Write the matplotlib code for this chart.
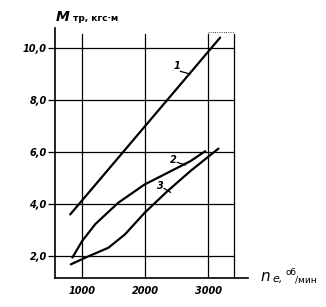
import matplotlib
matplotlib.use("Agg")
import matplotlib.pyplot as plt

# curves: friction torque vs engine speed
rpm_1 = [810, 3190]
torque_1 = [3.6, 10.4]

rpm_2 = [844, 1000, 1209, 1573, 1990, 2355, 2719, 2953]
torque_2 = [1.94, 2.58, 3.23, 4.05, 4.75, 5.2, 5.65, 6.03]

rpm_3 = [819, 1053, 1417, 1678, 1990, 2355, 2719, 3162]
torque_3 = [1.68, 1.94, 2.32, 2.83, 3.66, 4.5, 5.27, 6.13]

x_ticks = [1000, 2000, 3000]
x_tick_labels = ["1000", "2000", "3000"]
y_ticks = [2, 4, 6, 8, 10]
y_tick_labels = ["2,0", "4,0", "6,0", "8,0", "10,0"]

fig = plt.figure(figsize=(3.26, 3.07), dpi=100)
ax = fig.add_axes([0.169, 0.094, 0.592, 0.815])
ax.set_xlim(570, 3633)
ax.set_ylim(1.15, 10.77)

grid_right = 3410
for y in y_ticks:
    ax.plot([570, grid_right], [y, y], color="black", lw=0.9)
for x in x_ticks + [grid_right]:
    ax.plot([x, x], [1.15, 10.55], color="black", lw=0.9)
ax.plot([3000, grid_right], [10.6, 10.6], color="black", lw=0.6, ls=":")

k = dict(color="black", lw=1.6, solid_capstyle="round", solid_joinstyle="round")
ax.plot(rpm_1, torque_1, **k)
ax.plot(rpm_2, torque_2, **k)
ax.plot(rpm_3, torque_3, **k)

# curve labels with short leaders
lab = dict(fontsize=7, fontweight="bold", style="italic", ha="center", va="center")
ax.text(2500, 9.3, "1", **lab)
ax.plot([2560, 2710], [9.1, 9.0], color="black", lw=0.9)
ax.text(2440, 5.7, "2", **lab)
ax.plot([2510, 2640], [5.6, 5.5], color="black", lw=0.9)
ax.text(2240, 4.7, "3", **lab)
ax.plot([2300, 2400], [4.6, 4.45], color="black", lw=0.9)

for s in ["top", "right"]:
    ax.spines[s].set_visible(False)
for s in ["left", "bottom"]:
    ax.spines[s].set_linewidth(1.2)

ax.set_xticks(x_ticks)
ax.set_xticklabels(x_tick_labels)
ax.set_yticks(y_ticks)
ax.set_yticklabels(y_tick_labels)
ax.tick_params(axis="x", length=0, pad=6)
ax.tick_params(axis="y", length=5, width=0.9, pad=1)
for t in ax.get_xticklabels() + ax.get_yticklabels():
    t.set_fontsize(7)
    t.set_fontweight("bold")
    t.set_style("italic")

# axis titles
fig.text(0.172, 0.93, "M", fontsize=10, style="italic", fontweight="bold")
fig.text(0.225, 0.93, "тр, кгс·м", fontsize=6.5, fontweight="bold")
fig.text(0.80, 0.085, "n", fontsize=11, style="italic")
fig.text(0.835, 0.080, "e,", fontsize=8, style="italic")
fig.text(0.875, 0.105, "об", fontsize=6.5)
fig.text(0.905, 0.080, "/мин", fontsize=6.5)

fig.savefig("out.png", dpi=100)
